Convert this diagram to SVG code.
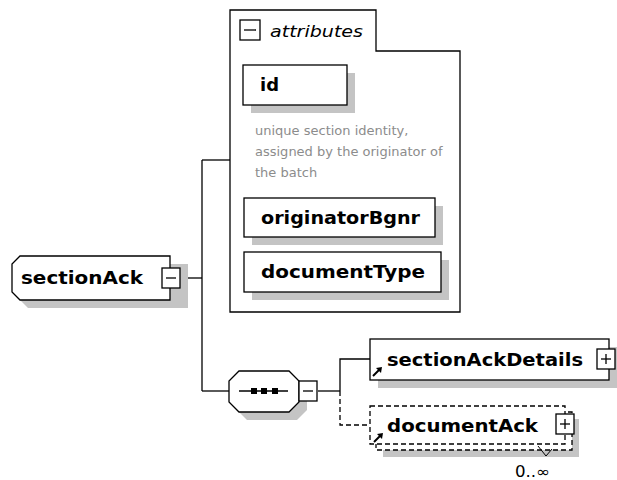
<svg xmlns="http://www.w3.org/2000/svg" width="617" height="480" viewBox="0 0 617 480">
<defs>
<style>
.bx{fill:#fff;stroke:#000;stroke-width:1.3}
.dbx{fill:#fff;stroke:#000;stroke-width:1.3;stroke-dasharray:5,3}
.sh{fill:#c4c4c4;stroke:none}
.ln{fill:none;stroke:#000;stroke-width:1.3}
.dln{fill:none;stroke:#000;stroke-width:1.3;stroke-dasharray:5,3}
.lbl{font-family:"DejaVu Sans","Liberation Sans",sans-serif;font-weight:bold;font-size:18px;fill:#000}
.att{font-family:"DejaVu Sans","Liberation Sans",sans-serif;font-style:italic;font-size:16px;fill:#000}
.desc{font-family:"DejaVu Sans","Liberation Sans",sans-serif;font-size:13px;fill:#8c8c8c}
.occ{font-family:"DejaVu Sans","Liberation Sans",sans-serif;font-size:15px;fill:#000}
</style>
<g id="minus">
<rect class="bx" x="0" y="0" width="18" height="20"/>
<line class="ln" x1="4" y1="10" x2="14" y2="10"/>
</g>
<g id="plus">
<rect class="bx" x="0" y="0" width="18" height="20"/>
<line class="ln" x1="4" y1="10" x2="14" y2="10"/>
<line class="ln" x1="9" y1="5" x2="9" y2="15"/>
</g>
<g id="ref">
<line x1="0" y1="9" x2="6" y2="3" stroke="#000" stroke-width="2"/>
<polygon points="9,0 3,1 8,6" fill="#000"/>
</g>
</defs>

<g id="connectors">
<line class="ln" x1="180" y1="278" x2="202" y2="278"/>
<line class="ln" x1="202" y1="160" x2="202" y2="391"/>
<line class="ln" x1="202" y1="160" x2="230" y2="160"/>
<line class="ln" x1="202" y1="391" x2="229" y2="391"/>
<line class="ln" x1="318" y1="391" x2="340" y2="391"/>
<polyline class="ln" points="340,391 340,359 370,359"/>
<polyline class="dln" points="340,391 340,425 370,425"/>
</g>

<g id="node-sectionAck">
<path class="sh" d="M28,264 H188 V308 H28 L20,300 V272 Z"/>
<path class="bx" d="M20,256 H170 V300 H20 L12,292 V264 Z"/>
<text class="lbl" x="21" y="284" textLength="122" lengthAdjust="spacingAndGlyphs">sectionAck</text>
<use href="#minus" x="162" y="268"/>
</g>

<g id="attributes">
<path class="bx" d="M230,10 H376 V51 H460 V312 H230 Z"/>
<rect class="bx" x="240" y="20" width="20" height="20"/>
<line class="ln" x1="244" y1="30" x2="256" y2="30"/>
<text class="att" x="270" y="37" textLength="93" lengthAdjust="spacingAndGlyphs">attributes</text>
</g>

<g id="node-id">
<rect class="sh" x="251" y="73" width="104" height="40"/>
<rect class="bx" x="243" y="65" width="104" height="40"/>
<text class="lbl" x="260" y="91" textLength="19" lengthAdjust="spacingAndGlyphs">id</text>
<text class="desc" x="255" y="135">unique section identity,</text>
<text class="desc" x="255" y="156">assigned by the originator of</text>
<text class="desc" x="255" y="177">the batch</text>
</g>

<g id="node-originatorBgnr">
<rect class="sh" x="252" y="206" width="191" height="39"/>
<rect class="bx" x="244" y="198" width="191" height="39"/>
<text class="lbl" x="261" y="224" textLength="159" lengthAdjust="spacingAndGlyphs">originatorBgnr</text>
</g>

<g id="node-documentType">
<rect class="sh" x="252" y="260" width="197" height="40"/>
<rect class="bx" x="244" y="252" width="197" height="40"/>
<text class="lbl" x="261" y="278" textLength="164" lengthAdjust="spacingAndGlyphs">documentType</text>
</g>

<g id="node-sequence">
<path class="sh" d="M247,379 H297 L307,389 V410 L297,420 H247 L237,410 V389 Z"/>
<path class="bx" d="M239,371 H289 L299,381 V402 L289,412 H239 L229,402 V381 Z"/>
<line class="ln" x1="239" y1="391" x2="288" y2="391"/>
<rect x="251" y="388" width="6" height="6" fill="#000"/>
<rect x="261" y="388" width="6" height="6" fill="#000"/>
<rect x="272" y="388" width="6" height="6" fill="#000"/>
<use href="#minus" x="299" y="381"/>
</g>

<g id="node-sectionAckDetails">
<rect class="sh" x="378" y="347" width="239" height="41"/>
<rect class="bx" x="370" y="339" width="239" height="41"/>
<text class="lbl" x="387" y="366" textLength="196" lengthAdjust="spacingAndGlyphs">sectionAckDetails</text>
<use href="#ref" x="373" y="367"/>
<use href="#plus" x="597" y="349"/>
</g>

<g id="node-documentAck">
<rect class="sh" x="383" y="419" width="196" height="38"/>
<rect class="dbx" x="376" y="412" width="196" height="38"/>
<rect class="dbx" x="370" y="406" width="195" height="38"/>
<text class="lbl" x="387" y="432" textLength="151" lengthAdjust="spacingAndGlyphs">documentAck</text>
<use href="#ref" x="374" y="433"/>
<use href="#plus" x="556" y="414"/>
<polyline points="538,446 546,456 552,449" fill="none" stroke="#000" stroke-width="1"/>
<text class="occ" x="515" y="477" textLength="35" lengthAdjust="spacingAndGlyphs">0..∞</text>
</g>
</svg>
